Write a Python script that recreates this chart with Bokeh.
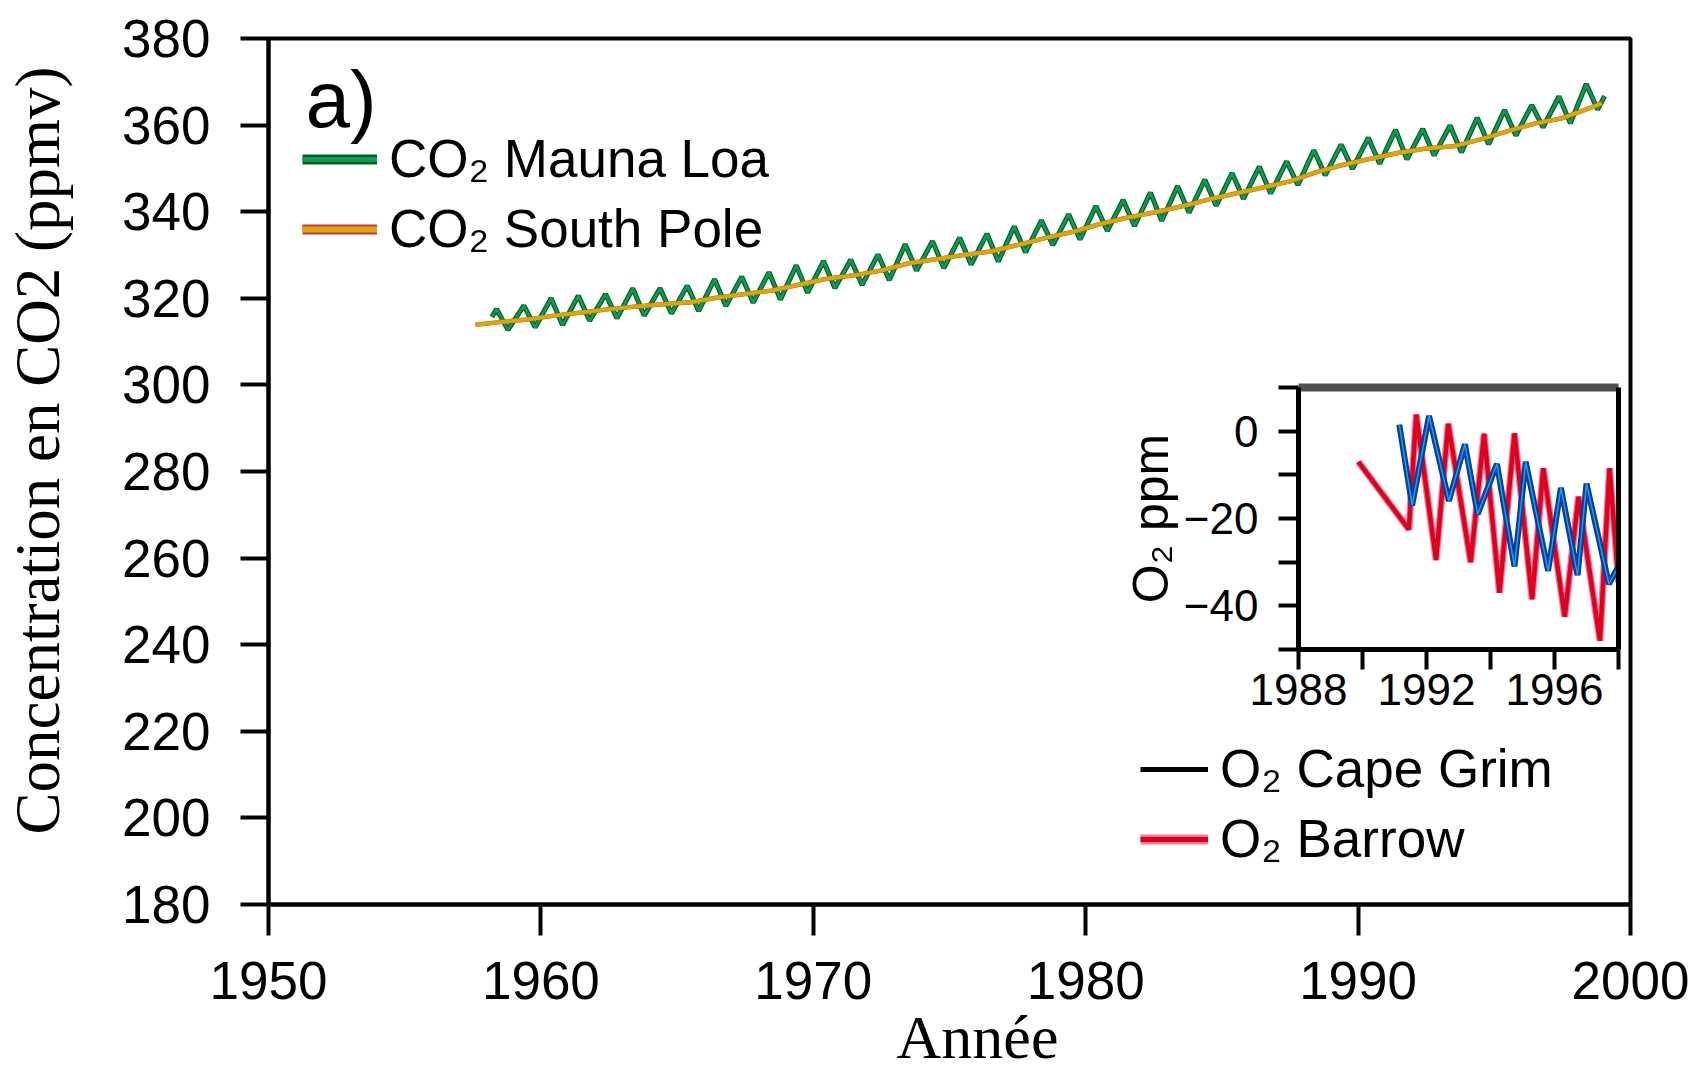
from bokeh.plotting import figure
from bokeh.models import (Range1d, FixedTicker, LinearAxis, Legend, LegendItem,
                          Label, GridBox)
from bokeh.embed import file_html
from bokeh.resources import INLINE

# ---------------- data ----------------
# Mauna Loa CO2: seasonal maxima (May) and minima (October), ppmv
ml_years = list(range(1958, 1999))
ml_may = [317.5, 318.3, 320.0, 320.6, 321.0, 322.3, 322.3, 322.9, 324.4, 325.0,
          326.0, 327.6, 328.6, 328.9, 330.1, 332.5, 333.2, 334.0, 334.9, 336.6,
          338.0, 339.4, 341.3, 342.7, 344.4, 345.9, 347.4, 348.9, 350.4, 351.6,
          354.2, 355.5, 357.1, 358.9, 359.1, 359.9, 361.7, 363.5, 364.6, 366.6,
          369.5]
ml_oct = [312.7, 313.3, 313.8, 314.8, 315.4, 316.0, 316.5, 317.1, 318.2, 319.0,
          319.7, 321.3, 322.4, 323.1, 324.2, 326.4, 327.0, 327.8, 328.5, 330.6,
          332.3, 333.6, 335.6, 336.7, 337.9, 339.8, 341.4, 343.0, 344.2, 346.2,
          348.4, 349.9, 351.1, 352.1, 353.0, 353.7, 355.6, 357.6, 359.5, 360.4,
          363.6]
ml_first_t, ml_first_v = 1958.2, 315.7
ml_last_t, ml_last_v = 1999.05, 366.7
PEAK_MONTH, TROUGH_MONTH = 5, 10

# South Pole CO2 (annual level, ppmv)
spo_t = [1957.6] + [y + 0.5 for y in range(1958, 1999)] + [1998.95]
spo_v = [313.9, 314.5, 315.1, 316.0, 316.7, 317.5, 318.1, 318.6, 319.1, 320.2,
         321.0, 321.8, 323.2, 324.5, 325.3, 326.4, 328.1, 329.0, 330.0, 330.8,
         332.3, 333.9, 335.3, 337.1, 338.6, 339.8, 341.2, 342.8, 344.2, 345.6,
         347.0, 349.2, 350.9, 352.3, 353.6, 354.6, 355.1, 356.7, 358.6, 360.4,
         361.6, 363.9, 365.0]

# O2 (ppm) inset
cg_t = [1991.15, 1991.55, 1992.08, 1992.70, 1993.20, 1993.60, 1994.20, 1994.75,
        1995.10, 1995.80, 1996.20, 1996.72, 1997.00, 1997.70, 1998.00]
cg_v = [1.5, -17.0, 3.5, -16.0, -3.0, -19.0, -7.5, -31.0,
        -7.0, -32.0, -13.0, -33.0, -12.0, -35.0, -31.0]
brw_t = [1989.87, 1991.45, 1991.68, 1992.30, 1992.68, 1993.38, 1993.80, 1994.28,
         1994.75, 1995.30, 1995.65, 1996.32, 1996.75, 1997.42, 1997.72, 1998.00]
brw_v = [-7.0, -22.5, 3.8, -29.5, 1.7, -30.0, -0.6, -37.0,
         -0.5, -38.5, -8.5, -42.5, -15.0, -48.0, -8.5, -34.5]

main_xticks = [1950, 1960, 1970, 1980, 1990, 2000]
main_yticks = [180, 200, 220, 240, 260, 280, 300, 320, 340, 360, 380]
inset_xticks = [1988, 1990, 1992, 1994, 1996, 1998]
inset_xlabels = {1988: "1988", 1990: "", 1992: "1992", 1994: "", 1996: "1996", 1998: ""}
inset_yticks = [-50, -40, -30, -20, -10, 0, 10]
inset_ylabels = {-50: "", -40: "\u221240", -30: "", -20: "\u221220", -10: "", 0: "0", 10: ""}

legend_main = ["CO\u2082 Mauna Loa", "CO\u2082 South Pole"]
legend_o2 = ["O\u2082 Cape Grim", "O\u2082 Barrow"]
x_title = "Ann\u00e9e"
y_title = "Concentration en CO2 (ppmv)"
inset_y_title = "O\u2082 ppm"
panel_tag = "a)"

# build the Mauna Loa zig-zag (dates from month numbers)
ml_t = [ml_first_t]
ml_v = [ml_first_v]
for yr, pk, tr in zip(ml_years, ml_may, ml_oct):
    ml_t += [yr + (PEAK_MONTH - 0.5) / 12, yr + (TROUGH_MONTH - 0.5) / 12]
    ml_v += [pk, tr]
ml_t.append(ml_last_t)
ml_v.append(ml_last_v)

# ---------------- styles ----------------
SANS = "Liberation Sans"
SERIF = "Liberation Serif"
ML_DARK, ML_MED = "#04611a", "#0b9b5c"
SP_RED, SP_GOLD = "#c8305c", "#d9a900"
CG_DARK, CG_LIGHT = "#0a3c9e", "#12a4e4"
BR_RED, BR_PINK = "#e0001b", "#ef7ca0"

W, H = 1695, 1072

# ---------------- main figure ----------------
p = figure(width=W, height=H, x_range=Range1d(1950, 2000), y_range=Range1d(180, 380),
           output_backend="svg", toolbar_location=None,
           min_border_left=268, min_border_right=65, min_border_top=38,
           min_border_bottom=168)
p.xgrid.grid_line_color = None
p.ygrid.grid_line_color = None
p.outline_line_color = "black"
p.outline_line_width = 4
p.outline_line_alpha = 1
p.extra_y_ranges = {"swatch": Range1d(10000, 10001)}

p.xaxis.ticker = FixedTicker(ticks=main_xticks)
p.yaxis.ticker = FixedTicker(ticks=main_yticks)
for ax in (p.xaxis[0], p.yaxis[0]):
    ax.axis_line_width = 4
    ax.axis_line_color = "black"
    ax.major_tick_line_width = 4
    ax.major_tick_line_color = "black"
    ax.major_tick_in = 0
    ax.minor_tick_line_color = None
    ax.major_label_text_font = SANS
    ax.major_label_text_font_size = "53px"
    ax.major_label_text_color = "black"
p.yaxis.major_tick_out = 28
p.yaxis.major_label_standoff = 30
p.xaxis.major_tick_out = 31
p.xaxis.major_label_standoff = 26

p.line(ml_t, ml_v, line_color=ML_DARK, line_width=5)
p.line(ml_t, ml_v, line_color=ML_MED, line_width=2.5)
p.line(spo_t, spo_v, line_color=SP_RED, line_width=4.5)
p.line(spo_t, spo_v, line_color=SP_GOLD, line_width=4)

# legend swatches: same series on an off-frame range (only the legend shows them)
lg_ml_a = p.line(ml_t, ml_v, line_color=ML_DARK, line_width=10, y_range_name="swatch")
lg_ml_b = p.line(ml_t, ml_v, line_color=ML_MED, line_width=5, y_range_name="swatch")
lg_sp_a = p.line(spo_t, spo_v, line_color=SP_RED, line_width=10, y_range_name="swatch")
lg_sp_b = p.line(spo_t, spo_v, line_color=SP_GOLD, line_width=6, y_range_name="swatch")
lg_cg = p.line(cg_t, cg_v, line_color="black", line_width=5, y_range_name="swatch")
lg_br_a = p.line(brw_t, brw_v, line_color=BR_PINK, line_width=10, y_range_name="swatch")
lg_br_b = p.line(brw_t, brw_v, line_color=BR_RED, line_width=5, y_range_name="swatch")


def style_legend(lg, gw, sp):
    lg.border_line_color = None
    lg.background_fill_alpha = 0
    lg.padding = 0
    lg.margin = 0
    lg.spacing = sp
    lg.glyph_width = gw
    lg.glyph_height = 58
    lg.label_standoff = 12
    lg.label_text_font = SANS
    lg.label_text_font_size = "53px"
    lg.label_text_color = "black"


leg1 = Legend(items=[LegendItem(label=legend_main[0], renderers=[lg_ml_a, lg_ml_b]),
                     LegendItem(label=legend_main[1], renderers=[lg_sp_a, lg_sp_b])],
              location=(34, 645))
style_legend(leg1, 75, 9)
p.add_layout(leg1)

leg2 = Legend(items=[LegendItem(label=legend_o2[0], renderers=[lg_cg]),
                     LegendItem(label=legend_o2[1], renderers=[lg_br_a, lg_br_b])],
              location=(872, 35))
style_legend(leg2, 68, 9)
p.add_layout(leg2)

# ---------------- inset figure ----------------
q = figure(width=518, height=352, x_range=Range1d(1988, 1998), y_range=Range1d(-50, 10),
           output_backend="svg", toolbar_location=None,
           min_border_left=190, min_border_right=8, min_border_top=10,
           min_border_bottom=80, background_fill_alpha=0, border_fill_alpha=0,
           outline_line_color=None)
q.xgrid.grid_line_color = None
q.ygrid.grid_line_color = None
q.xaxis.ticker = FixedTicker(ticks=inset_xticks)
q.yaxis.ticker = FixedTicker(ticks=inset_yticks)
q.xaxis.major_label_overrides = inset_xlabels
q.yaxis.major_label_overrides = inset_ylabels
for ax in (q.xaxis[0], q.yaxis[0]):
    ax.axis_line_width = 5
    ax.axis_line_color = "black"
    ax.major_tick_line_width = 4
    ax.major_tick_line_color = "black"
    ax.major_tick_in = 0
    ax.major_tick_out = 20
    ax.minor_tick_line_color = None
    ax.major_label_text_font = SANS
    ax.major_label_text_font_size = "44px"
    ax.major_label_text_color = "black"
q.yaxis.major_label_standoff = 20
q.xaxis.major_label_standoff = 4
q.yaxis.axis_label = inset_y_title
q.yaxis.axis_label_text_font = SANS
q.yaxis.axis_label_text_font_size = "50px"
q.yaxis.axis_label_text_font_style = "normal"
q.yaxis.axis_label_text_color = "black"
q.yaxis.axis_label_standoff = 2

for place, col, lw in (("right", "black", 5), ("above", "#505050", 8)):
    ax = LinearAxis(ticker=FixedTicker(ticks=[]), axis_line_color=col,
                    axis_line_width=lw, major_tick_line_color=None,
                    minor_tick_line_color=None, major_label_text_font_size="0px",
                    major_label_standoff=0)
    q.add_layout(ax, place)

q.line(brw_t, brw_v, line_color=BR_PINK, line_width=7)
q.line(brw_t, brw_v, line_color=BR_RED, line_width=4.5)
q.line(cg_t, cg_v, line_color=CG_DARK, line_width=6)
q.line(cg_t, cg_v, line_color=CG_LIGHT, line_width=1.5)

# ---------------- text overlay (page pixel space) ----------------
ov = figure(width=W, height=H, x_range=Range1d(0, W), y_range=Range1d(H, 0),
            output_backend="svg", toolbar_location=None,
            x_axis_location=None, y_axis_location=None,
            min_border_left=0, min_border_right=0, min_border_top=0,
            min_border_bottom=0, background_fill_alpha=0, border_fill_alpha=0,
            outline_line_color=None)
ov.xgrid.grid_line_color = None
ov.ygrid.grid_line_color = None
ov.add_layout(Label(x=305, y=99, text=panel_tag, text_font=SANS,
                    text_font_size="80px", text_baseline="middle",
                    text_align="left", text_color="black"))
ov.add_layout(Label(x=37, y=450, text=y_title, angle=90, angle_units="deg",
                    text_align="center", text_baseline="middle", text_font=SERIF,
                    text_font_size="63px", text_color="black"))
ov.add_layout(Label(x=977, y=1036, text=x_title, text_align="center",
                    text_baseline="middle", text_font=SERIF,
                    text_font_size="62px", text_color="black"))

# zero-size outer tracks keep the overlay's edges distinct from the main plot's
grid = GridBox(children=[(p, 1, 1, 3, 3), (q, 2, 2, 1, 1), (ov, 0, 0, 5, 5)],
               rows=["0px", "377px", "352px", "343px", "0px"],
               cols=["0px", "1108px", "518px", "69px", "0px"],
               spacing=0)

open("out.html", "w").write(file_html(grid, INLINE))
